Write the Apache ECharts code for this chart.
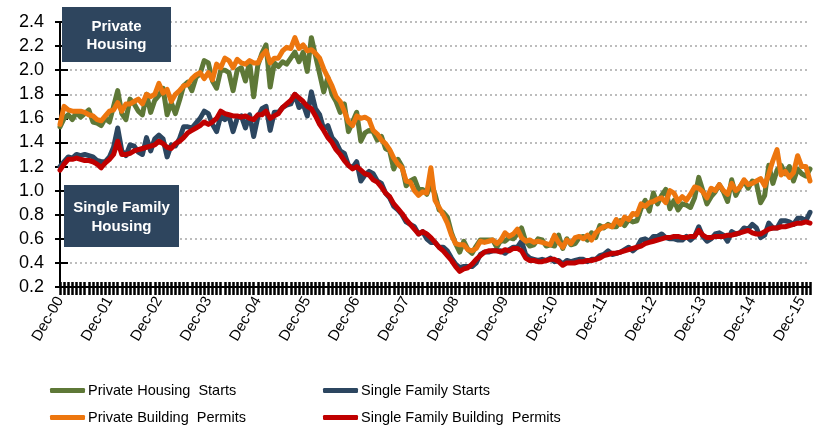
<!DOCTYPE html>
<html>
<head>
<meta charset="utf-8">
<script src="https://cdn.jsdelivr.net/npm/echarts@6/dist/echarts.min.js"></script>
<style>html,body{margin:0;padding:0;background:#fff}#c{width:818px;height:429px}</style>
</head>
<body>
<div id="c"></div>
<script>
// ---- data (monthly, Dec-00 .. Feb-16, millions of units SAAR) ----
var monthNames = ['Jan','Feb','Mar','Apr','May','Jun','Jul','Aug','Sep','Oct','Nov','Dec'];
var startYear = 2000, startMonth = 11; // Dec-00
var yTicks = [0.2,0.4,0.6,0.8,1.0,1.2,1.4,1.6,1.8,2.0,2.2,2.4];

var privateHousingStarts = [1.53,
1.60,1.63,1.59,1.65,1.61,1.64,1.67,1.57,1.56,1.54,1.60,1.57,
1.70,1.83,1.64,1.59,1.76,1.72,1.66,1.63,1.80,1.65,1.75,1.79,
1.85,1.63,1.73,1.64,1.75,1.87,1.90,1.83,1.94,1.97,2.08,2.06,
1.91,1.85,2.00,2.00,1.98,1.83,2.00,2.02,1.91,2.07,1.78,2.04,
2.14,2.21,1.86,2.06,2.03,2.07,2.05,2.10,2.15,2.07,2.15,1.99,
2.27,2.12,1.97,1.82,1.94,1.80,1.74,1.65,1.72,1.49,1.57,1.65,
1.41,1.48,1.50,1.49,1.42,1.45,1.35,1.33,1.18,1.26,1.20,1.04,
1.08,1.10,1.01,1.01,0.97,1.05,0.97,0.84,0.82,0.78,0.65,0.56,
0.49,0.58,0.51,0.48,0.54,0.59,0.59,0.59,0.59,0.53,0.59,0.58,
0.61,0.60,0.64,0.69,0.58,0.54,0.55,0.60,0.59,0.54,0.55,0.54,
0.63,0.52,0.60,0.55,0.56,0.61,0.62,0.59,0.65,0.61,0.71,0.69,
0.72,0.70,0.70,0.75,0.71,0.76,0.74,0.75,0.85,0.92,0.83,0.98,
0.89,0.96,1.01,0.85,0.92,0.84,0.89,0.88,0.86,0.94,1.11,1.00,
0.89,0.95,0.99,1.05,0.99,0.91,1.09,0.96,1.03,1.08,1.02,1.08,
1.06,0.90,0.96,1.21,1.06,1.17,1.21,1.14,1.20,1.08,1.18,1.14,
1.12,1.18];

var singleFamilyStarts = [1.20,
1.24,1.28,1.27,1.30,1.29,1.30,1.29,1.28,1.25,1.24,1.24,1.28,
1.36,1.52,1.33,1.29,1.38,1.37,1.32,1.30,1.44,1.33,1.43,1.46,
1.43,1.28,1.38,1.37,1.43,1.53,1.53,1.52,1.56,1.60,1.66,1.64,
1.55,1.49,1.62,1.59,1.62,1.49,1.60,1.62,1.52,1.63,1.45,1.61,
1.68,1.70,1.50,1.65,1.65,1.69,1.71,1.72,1.80,1.69,1.72,1.62,
1.82,1.68,1.63,1.51,1.54,1.44,1.40,1.33,1.31,1.21,1.19,1.24,
1.08,1.13,1.16,1.14,1.08,1.06,0.98,0.94,0.87,0.84,0.80,0.74,
0.72,0.70,0.64,0.66,0.60,0.57,0.57,0.53,0.53,0.50,0.44,0.39,
0.36,0.37,0.37,0.37,0.40,0.47,0.49,0.49,0.50,0.50,0.50,0.48,
0.51,0.53,0.53,0.58,0.47,0.44,0.43,0.42,0.43,0.42,0.44,0.41,
0.42,0.39,0.42,0.41,0.42,0.43,0.43,0.41,0.43,0.43,0.46,0.47,
0.50,0.47,0.48,0.49,0.51,0.53,0.50,0.53,0.59,0.60,0.58,0.62,
0.62,0.64,0.61,0.60,0.60,0.59,0.59,0.62,0.59,0.62,0.70,0.62,
0.58,0.60,0.64,0.65,0.63,0.58,0.66,0.64,0.65,0.69,0.68,0.72,
0.69,0.61,0.63,0.73,0.69,0.69,0.75,0.75,0.74,0.72,0.77,0.77,
0.75,0.82];

var privateBuildingPermits = [1.55,
1.70,1.67,1.66,1.66,1.66,1.65,1.63,1.62,1.59,1.58,1.62,1.66,
1.67,1.73,1.66,1.72,1.72,1.74,1.76,1.72,1.80,1.78,1.80,1.89,
1.81,1.84,1.74,1.80,1.83,1.87,1.88,1.93,1.96,1.98,1.93,1.98,
1.92,2.05,2.02,2.10,2.08,2.02,2.09,2.06,2.05,2.08,2.06,2.06,
2.12,2.16,2.06,2.10,2.10,2.16,2.19,2.18,2.27,2.18,2.21,2.16,
2.17,2.14,2.10,2.01,1.94,1.87,1.78,1.74,1.66,1.57,1.54,1.62,
1.60,1.61,1.59,1.50,1.47,1.42,1.39,1.34,1.27,1.22,1.19,1.08,
1.07,1.00,0.96,0.99,0.98,1.19,0.92,0.86,0.80,0.73,0.63,0.56,
0.55,0.55,0.51,0.50,0.52,0.58,0.57,0.58,0.59,0.56,0.59,0.65,
0.62,0.64,0.68,0.61,0.58,0.59,0.57,0.58,0.57,0.56,0.55,0.63,
0.57,0.53,0.59,0.56,0.61,0.62,0.60,0.63,0.59,0.65,0.68,0.70,
0.71,0.70,0.76,0.72,0.78,0.76,0.81,0.80,0.89,0.87,0.90,0.91,
0.93,0.94,0.90,1.00,0.98,0.91,0.95,0.92,0.97,1.03,1.02,0.99,
0.94,1.02,1.00,1.05,1.00,0.97,1.06,1.00,1.03,1.09,1.05,1.06,
1.08,1.10,1.04,1.14,1.25,1.34,1.13,1.16,1.11,1.15,1.29,1.20,
1.20,1.08];

var singleFamilyPermits = [1.17,
1.22,1.26,1.26,1.27,1.26,1.25,1.25,1.24,1.22,1.19,1.23,1.26,
1.30,1.41,1.30,1.30,1.31,1.33,1.34,1.35,1.36,1.37,1.38,1.41,
1.39,1.36,1.35,1.39,1.41,1.44,1.48,1.50,1.52,1.54,1.57,1.55,
1.57,1.60,1.66,1.64,1.63,1.62,1.62,1.61,1.62,1.60,1.59,1.63,
1.63,1.66,1.60,1.62,1.64,1.69,1.72,1.75,1.80,1.77,1.74,1.70,
1.68,1.62,1.55,1.50,1.44,1.40,1.34,1.30,1.25,1.21,1.18,1.20,
1.17,1.14,1.13,1.09,1.07,1.03,0.98,0.95,0.89,0.85,0.81,0.76,
0.72,0.68,0.64,0.66,0.64,0.61,0.57,0.53,0.50,0.46,0.42,0.37,
0.33,0.35,0.36,0.39,0.43,0.46,0.49,0.50,0.50,0.50,0.49,0.51,
0.50,0.52,0.52,0.50,0.44,0.42,0.42,0.41,0.41,0.42,0.43,0.43,
0.41,0.38,0.40,0.40,0.40,0.41,0.41,0.42,0.42,0.43,0.44,0.46,
0.47,0.48,0.48,0.49,0.50,0.51,0.52,0.53,0.54,0.56,0.57,0.58,
0.59,0.60,0.61,0.61,0.62,0.62,0.61,0.61,0.62,0.62,0.67,0.63,
0.61,0.61,0.62,0.62,0.62,0.63,0.63,0.64,0.65,0.66,0.67,0.65,
0.64,0.64,0.66,0.68,0.69,0.69,0.70,0.70,0.71,0.72,0.73,0.73,
0.74,0.73];

var seriesNames = ['Private Housing  Starts','Single Family Starts','Private Building  Permits','Single Family Building  Permits'];
var seriesColors = ['#5E7837','#2C4660','#ED760E','#C00000'];

// categories
var categories = [];
for (var i = 0; i < privateHousingStarts.length; i++) {
  var m = (startMonth + i) % 12;
  var y = startYear + Math.floor((startMonth + i) / 12);
  categories.push(monthNames[m] + '-' + String(y % 100).padStart(2, '0'));
}

var FONT = '"Liberation Sans", Arial, sans-serif';
var GRID = {left: 60, right: 8, top: 22, bottom: 142};
var BOXFONT = 'bold 15px "Liberation Sans", Arial, sans-serif';

var chart = echarts.init(document.getElementById('c'), null, {renderer: 'canvas'});

function lineSeries(idx, data) {
  return {
    name: seriesNames[idx], type: 'line', data: data,
    xAxisIndex: 0, yAxisIndex: 0,
    symbol: 'none', smooth: false, animation: false,
    lineStyle: {width: 5, color: seriesColors[idx], join: 'round', cap: 'round'},
    itemStyle: {color: seriesColors[idx]}
  };
}

function legendAt(name, left, top) {
  return {
    data: [name], left: left, top: top, orient: 'horizontal',
    icon: 'roundRect', itemWidth: 35, itemHeight: 5, itemGap: 0,
    selectedMode: false, padding: 0,
    textStyle: {fontFamily: FONT, fontSize: 14.5, color: '#000', padding: [0,0,0,-2]}
  };
}

chart.setOption({
  animation: false,
  backgroundColor: '#fff',
  grid: GRID,
  xAxis: [{
    type: 'category', data: categories, boundaryGap: false,
    axisLine: {lineStyle: {color: '#000', width: 2}},
    axisTick: {show: true, interval: 0, length: 8, inside: false, lineStyle: {color: '#000', width: 2.5}},
    axisLabel: {
      interval: function (i) { return i % 12 === 0; },
      rotate: 60, margin: 11, fontFamily: FONT, fontSize: 15, color: '#000'
    },
    splitLine: {show: false}
  }, {
    type: 'category', data: categories, boundaryGap: false, position: 'bottom',
    axisLine: {show: false},
    axisTick: {show: true, interval: 0, length: 5, inside: true, lineStyle: {color: '#000', width: 2.5}},
    axisLabel: {show: false}, splitLine: {show: false}
  }],
  yAxis: [{
    type: 'value', min: 0.2, max: 2.4, interval: 0.2,
    axisLine: {show: true, lineStyle: {color: '#000', width: 2}},
    axisTick: {show: true, length: 5, lineStyle: {color: '#000', width: 2}},
    axisLabel: {
      formatter: function (v) { return v.toFixed(1); },
      margin: 16, fontFamily: FONT, fontSize: 18, color: '#000'
    },
    splitLine: {show: true, lineStyle: {color: '#BDBDBD', width: 2, type: [2, 3]}}
  }, {
    type: 'value', min: 0.2, max: 2.4, interval: 0.2, position: 'left',
    axisLine: {show: false},
    axisTick: {show: true, inside: true, length: 8, lineStyle: {color: '#000', width: 2}},
    axisLabel: {show: false}, splitLine: {show: false}
  }],
  legend: [
    legendAt(seriesNames[0], 50, 383),
    legendAt(seriesNames[2], 50, 410),
    legendAt(seriesNames[1], 323, 383),
    legendAt(seriesNames[3], 323, 410)
  ],
  series: [
    lineSeries(0, privateHousingStarts),
    lineSeries(1, singleFamilyStarts),
    lineSeries(2, privateBuildingPermits),
    lineSeries(3, singleFamilyPermits)
  ],
  graphic: [
    {type: 'rect', z: 10, shape: {x: 62, y: 7, width: 109, height: 55}, style: {fill: '#2E455E'}},
    {type: 'text', z: 11, style: {text: 'Private\nHousing', x: 116.5, y: 36, align: 'center', verticalAlign: 'middle',
      fill: '#fff', font: BOXFONT, lineHeight: 18}},
    {type: 'rect', z: 10, shape: {x: 64, y: 185, width: 115, height: 62}, style: {fill: '#2E455E'}},
    {type: 'text', z: 11, style: {text: 'Single Family\nHousing', x: 121.5, y: 217, align: 'center', verticalAlign: 'middle',
      fill: '#fff', font: BOXFONT, lineHeight: 19}}
  ]
});
</script>
</body>
</html>
